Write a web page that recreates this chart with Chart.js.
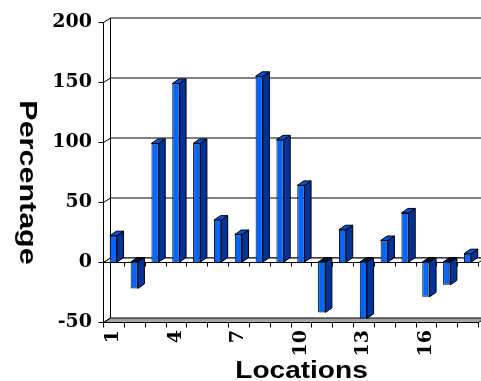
<!DOCTYPE html>
<html>
<head>
<meta charset="utf-8">
<script src="https://cdn.jsdelivr.net/npm/chart.js@4.4.1/dist/chart.umd.min.js"></script>
<style>
  html, body { margin: 0; padding: 0; background: #fff; }
</style>
</head>
<body>
<canvas id="locChart" width="481" height="381"></canvas>
<script>
const locations = ["1", "2", "3", "4", "5", "6", "7", "8", "9", "10", "11", "12", "13", "14", "15", "16", "17", "18"];
const percentages = [22, -22, 99, 149, 99, 35, 23, 155, 102, 64, -42, 27, -47, 18, 41, -29, -19, 7];
const yTicks = [-50, 0, 50, 100, 150, 200];

const tickFont = { family: "DejaVu Serif", size: 19, weight: "bold" };

// depth of the walls and of the bars
const WALL_DX = 7, WALL_DY = 4.5;
const BAR_DX = 6.5, BAR_DY = 4.5;

function line(ctx, x1, y1, x2, y2) {
  ctx.beginPath();
  ctx.moveTo(x1, y1);
  ctx.lineTo(x2, y2);
  ctx.stroke();
}

function poly(ctx, pts, fill) {
  ctx.beginPath();
  ctx.moveTo(pts[0][0], pts[0][1]);
  for (let i = 1; i < pts.length; i++) ctx.lineTo(pts[i][0], pts[i][1]);
  ctx.closePath();
  ctx.fillStyle = fill;
  ctx.fill();
  ctx.stroke();
}

const threeD = {
  id: "threeD",
  beforeDatasetsDraw(chart) {
    const { ctx, chartArea: a, scales: { x, y } } = chart;
    const L = Math.round(a.left) + 0.5;
    const R = Math.round(a.right) + 0.5;
    ctx.save();
    ctx.strokeStyle = "#000";
    ctx.lineWidth = 1;

    // floor at the bottom of the scale
    const yf = Math.round(y.getPixelForValue(yTicks[0])) + 0.5;
    poly(ctx, [[L, yf], [L + WALL_DX, yf - WALL_DY], [R + WALL_DX, yf - WALL_DY], [R, yf]], "#a6a6a6");

    // back gridlines, wall diagonals, y tick marks
    yTicks.forEach(v => {
      const py = Math.round(y.getPixelForValue(v)) + 0.5;
      if (v !== yTicks[0]) line(ctx, L + WALL_DX, py - WALL_DY, R + WALL_DX, py - WALL_DY);
      line(ctx, L, py, L + WALL_DX, py - WALL_DY);
      line(ctx, L - 5, py, L, py);
    });

    // left wall
    line(ctx, L, Math.round(a.top) + 0.5, L, yf);
    line(ctx, L + WALL_DX, Math.round(a.top) + 0.5 - WALL_DY, L + WALL_DX, yf - WALL_DY);

    // zero plane
    const y0 = Math.round(y.getPixelForValue(0)) + 0.5;
    poly(ctx, [[L, y0], [L + WALL_DX, y0 - WALL_DY], [R + WALL_DX, y0 - WALL_DY], [R, y0]], "#fff");

    // category tick marks
    const cw = (a.right - a.left) / locations.length;
    for (let i = 0; i <= locations.length; i++) {
      const px = Math.round(a.left + i * cw) + 0.5;
      line(ctx, px, y0, px, y0 + 4);
      line(ctx, px, yf, px, yf + 5);
    }
    ctx.restore();
  },
  afterDatasetsDraw(chart) {
    const { ctx } = chart;
    const meta = chart.getDatasetMeta(0);
    ctx.save();
    ctx.strokeStyle = "#000";
    ctx.lineWidth = 1;
    meta.data.forEach(bar => {
      const p = bar.getProps(["x", "y", "base", "width"], true);
      const left = p.x - p.width / 2, right = p.x + p.width / 2;
      const top = Math.min(p.y, p.base), bottom = Math.max(p.y, p.base);
      const neg = p.y > p.base;
      poly(ctx, [[right, top], [right + BAR_DX, top - BAR_DY], [right + BAR_DX, bottom - BAR_DY], [right, bottom]], "#003399");
      poly(ctx, [[left, top], [left + BAR_DX, top - BAR_DY], [right + BAR_DX, top - BAR_DY], [right, top]], neg ? "#00102e" : "#0050d8");
    });
    ctx.restore();

    // axis titles
    ctx.save();
    ctx.fillStyle = "#000";
    ctx.font = "bold 24px 'Liberation Sans', Arial, sans-serif";
    ctx.textAlign = "center";
    ctx.textBaseline = "alphabetic";
    ctx.translate(19.5, 182.5);
    ctx.rotate(Math.PI / 2);
    ctx.scale(1.27, 1);
    ctx.fillText("Percentage", 0, 0);
    ctx.restore();

    ctx.save();
    ctx.fillStyle = "#000";
    ctx.font = "bold 23px 'Liberation Sans', Arial, sans-serif";
    ctx.textAlign = "center";
    ctx.textBaseline = "alphabetic";
    ctx.translate(301.5, 378);
    ctx.scale(1.22, 1);
    ctx.fillText("Locations", 0, 0);
    ctx.restore();
  }
};

const ctx = document.getElementById("locChart").getContext("2d");

new Chart(ctx, {
  type: "bar",
  data: {
    labels: locations,
    datasets: [
      {
        data: percentages,
        backgroundColor: "#0066ff",
        borderColor: "#000",
        borderWidth: 1,
        barPercentage: 0.35,
        categoryPercentage: 1.0
      }
    ]
  },
  options: {
    responsive: false,
    animation: false,
    layout: { padding: { top: 22, right: 3, left: 0, bottom: 0 } },
    plugins: {
      legend: { display: false },
      tooltip: { enabled: false }
    },
    scales: {
      x: {
        grid: { display: false, drawTicks: false, tickLength: 0 },
        border: { display: false },
        ticks: {
          autoSkip: false,
          minRotation: 90,
          maxRotation: 90,
          padding: 8,
          color: "#000",
          font: tickFont,
          callback: function (value, index) {
            return index % 3 === 0 ? this.getLabelForValue(value) : "";
          }
        },
        afterFit(scale) {
          scale.height = 59;
          scale.paddingLeft = 0;
          scale.paddingRight = 0;
        }
      },
      y: {
        min: -50,
        max: 200,
        grid: { display: false, drawTicks: false, tickLength: 0 },
        border: { display: false },
        ticks: {
          stepSize: 50,
          padding: 11,
          color: "#000",
          font: tickFont
        },
        afterFit(scale) {
          scale.width = 103;
        }
      }
    }
  },
  plugins: [threeD]
});
</script>
</body>
</html>
